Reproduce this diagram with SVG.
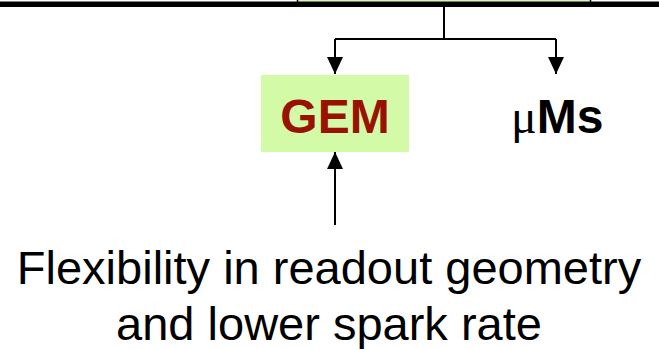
<svg xmlns="http://www.w3.org/2000/svg" width="659" height="349" viewBox="0 0 659 349">
<style>
.line{stroke:#000;stroke-width:2;fill:none}
.box{fill:#d3fba7}
.lbl{font-family:"Liberation Sans",Arial,sans-serif;font-weight:bold;font-size:48px}
.cap{font-family:"Liberation Sans",Arial,sans-serif;font-size:47px;fill:#000}
</style>
<defs>
<marker id="ah" markerUnits="userSpaceOnUse" markerWidth="17" markerHeight="16" refX="17" refY="8" orient="auto" viewBox="0 0 17 16">
<path d="M0,0 L17,8 L0,16 Z" fill="#000"/>
</marker>
</defs>
<g id="top">
<rect x="297" y="-5" width="294" height="6.5" fill="#d3fba7"/>
<path d="M297.5,-1 V2 M590.5,-1 V2" stroke="#000" stroke-width="1.5"/>
<rect x="0" y="1.5" width="659" height="5.5" fill="#000"/>
</g>
<g id="connectors">
<path class="line" d="M444,7 V39 M335,39 H556"/>
<path class="line" d="M335,39 V74" marker-end="url(#ah)"/>
<path class="line" d="M556,39 V74" marker-end="url(#ah)"/>
<path class="line" d="M335,225 V152" marker-end="url(#ah)"/>
</g>
<g id="gem">
<rect class="box" x="261" y="75" width="148" height="77"/>
<text class="lbl" x="335" y="133" text-anchor="middle" fill="#991100">GEM</text>
</g>
<g id="ums">
<text class="lbl" x="511" y="133" fill="#000"><tspan font-family="'Liberation Serif',serif" font-weight="normal">μ</tspan>Ms</text>
</g>
<g id="caption">
<text class="cap" x="329" y="284" text-anchor="middle">Flexibility in readout geometry</text>
<text class="cap" x="329" y="340" text-anchor="middle">and lower spark rate</text>
</g>
</svg>
